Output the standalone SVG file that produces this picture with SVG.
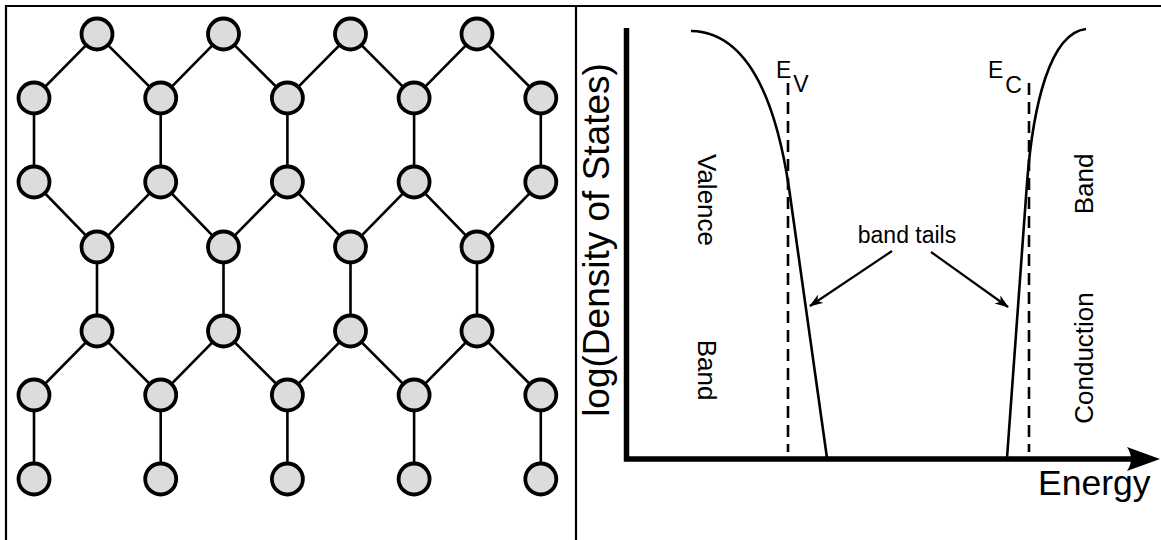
<svg xmlns="http://www.w3.org/2000/svg" width="1161" height="540" viewBox="0 0 1161 540">
<style>
  .frame { stroke: #000; stroke-width: 2.2; fill: none; }
  .bond { stroke: #000; stroke-width: 2.6; fill: none; }
  .atom { fill: #dcdcdc; stroke: #000; stroke-width: 3.8; }
  .axis { stroke: #000; stroke-width: 5.5; fill: none; stroke-linejoin: miter; stroke-linecap: butt; }
  .curve { stroke: #000; stroke-width: 2.6; fill: none; }
  .dash { stroke: #000; stroke-width: 2.6; fill: none; stroke-dasharray: 12 7; }
  .ptr { stroke: #000; stroke-width: 2.2; fill: none; marker-end: url(#ah); }
  .t { font-family: "Liberation Sans", Arial, sans-serif; fill: #000; }
</style>
<defs>
  <marker id="ah" viewBox="0 0 14 10" refX="13" refY="5" markerWidth="14" markerHeight="10" markerUnits="userSpaceOnUse" orient="auto">
    <path d="M0,0 L14,5 L0,10 L4,5 Z" fill="#000"/>
  </marker>
</defs>
<rect width="1161" height="540" fill="#fff"/>
<g id="frame">
  <line class="frame" x1="5" y1="6" x2="1161" y2="6"/>
  <line class="frame" x1="6" y1="5" x2="6" y2="540"/>
  <line class="frame" x1="576" y1="6" x2="576" y2="540"/>
</g>
<g id="bonds">
  <path class="bond" d="M34,98 L97,34 L160.7,98 L223.5,34 L287.4,98 L350.5,34 L414.1,98 L477,34 L540.8,98"/>
  <path class="bond" d="M34,98 V182 M160.7,98 V182 M287.4,98 V182 M414.1,98 V182 M540.8,98 V182"/>
  <path class="bond" d="M34,182 L97,247 L160.7,182 L223.5,247 L287.4,182 L350.5,247 L414.1,182 L477,247 L540.8,182"/>
  <path class="bond" d="M97,247 V331 M223.5,247 V331 M350.5,247 V331 M477,247 V331"/>
  <path class="bond" d="M34,395 L97,331 L160.7,395 L223.5,331 L287.4,395 L350.5,331 L414.1,395 L477,331 L540.8,395"/>
  <path class="bond" d="M34,395 V479 M160.7,395 V479 M287.4,395 V479 M414.1,395 V479 M540.8,395 V479"/>
</g>
<g id="atoms">
  <g id="row1"><circle class="atom" cx="97" cy="34" r="15.5"/><circle class="atom" cx="223.5" cy="34" r="15.5"/><circle class="atom" cx="350.5" cy="34" r="15.5"/><circle class="atom" cx="477" cy="34" r="15.5"/></g>
  <g id="row2"><circle class="atom" cx="34" cy="98" r="15.5"/><circle class="atom" cx="160.7" cy="98" r="15.5"/><circle class="atom" cx="287.4" cy="98" r="15.5"/><circle class="atom" cx="414.1" cy="98" r="15.5"/><circle class="atom" cx="540.8" cy="98" r="15.5"/></g>
  <g id="row3"><circle class="atom" cx="34" cy="182" r="15.5"/><circle class="atom" cx="160.7" cy="182" r="15.5"/><circle class="atom" cx="287.4" cy="182" r="15.5"/><circle class="atom" cx="414.1" cy="182" r="15.5"/><circle class="atom" cx="540.8" cy="182" r="15.5"/></g>
  <g id="row4"><circle class="atom" cx="97" cy="247" r="15.5"/><circle class="atom" cx="223.5" cy="247" r="15.5"/><circle class="atom" cx="350.5" cy="247" r="15.5"/><circle class="atom" cx="477" cy="247" r="15.5"/></g>
  <g id="row5"><circle class="atom" cx="97" cy="331" r="15.5"/><circle class="atom" cx="223.5" cy="331" r="15.5"/><circle class="atom" cx="350.5" cy="331" r="15.5"/><circle class="atom" cx="477" cy="331" r="15.5"/></g>
  <g id="row6"><circle class="atom" cx="34" cy="395" r="15.5"/><circle class="atom" cx="160.7" cy="395" r="15.5"/><circle class="atom" cx="287.4" cy="395" r="15.5"/><circle class="atom" cx="414.1" cy="395" r="15.5"/><circle class="atom" cx="540.8" cy="395" r="15.5"/></g>
  <g id="row7"><circle class="atom" cx="34" cy="479" r="15.5"/><circle class="atom" cx="160.7" cy="479" r="15.5"/><circle class="atom" cx="287.4" cy="479" r="15.5"/><circle class="atom" cx="414.1" cy="479" r="15.5"/><circle class="atom" cx="540.8" cy="479" r="15.5"/></g>
</g>
<g id="plot">
  <g id="axes">
    <path class="axis" d="M626.5,28 V459 H1132"/>
    <path d="M1160,459 L1127,447 Q1135,459 1127,471 Z" fill="#000"/>
    <text class="t" font-size="37" text-anchor="middle" transform="translate(609,240) rotate(-90)">log(Density of States)</text>
    <text class="t" font-size="35.5" x="1038" y="495">Energy</text>
  </g>
  <g id="levels">
    <line class="dash" x1="788" y1="83" x2="788" y2="452"/>
    <line class="dash" x1="1029" y1="83" x2="1029" y2="452"/>
    <text class="t" font-size="23" x="776" y="78">E<tspan dx="2" dy="14">V</tspan></text>
    <text class="t" font-size="23" x="988" y="78">E<tspan dx="2" dy="15">C</tspan></text>
  </g>
  <g id="curves">
    <path class="curve" d="M691,31 C745,32 775,95 789,188 L827,458"/>
    <path class="curve" d="M1007,458 L1027,183 C1033,105 1050,33 1086,29"/>
  </g>
  <g id="labels">
    <text class="t" font-size="26" text-anchor="middle" transform="translate(698,200) rotate(90)">Valence</text>
    <text class="t" font-size="26" text-anchor="middle" transform="translate(698,370) rotate(90)">Band</text>
    <text class="t" font-size="26" text-anchor="middle" transform="translate(1093,184) rotate(-90)">Band</text>
    <text class="t" font-size="26" text-anchor="middle" transform="translate(1093,358) rotate(-90)">Conduction</text>
    <text class="t" font-size="23" text-anchor="middle" x="907" y="243">band tails</text>
  </g>
  <g id="pointers">
    <line class="ptr" x1="892" y1="251" x2="810" y2="306"/>
    <line class="ptr" x1="931" y1="252" x2="1008" y2="307"/>
  </g>
</g>
</svg>
